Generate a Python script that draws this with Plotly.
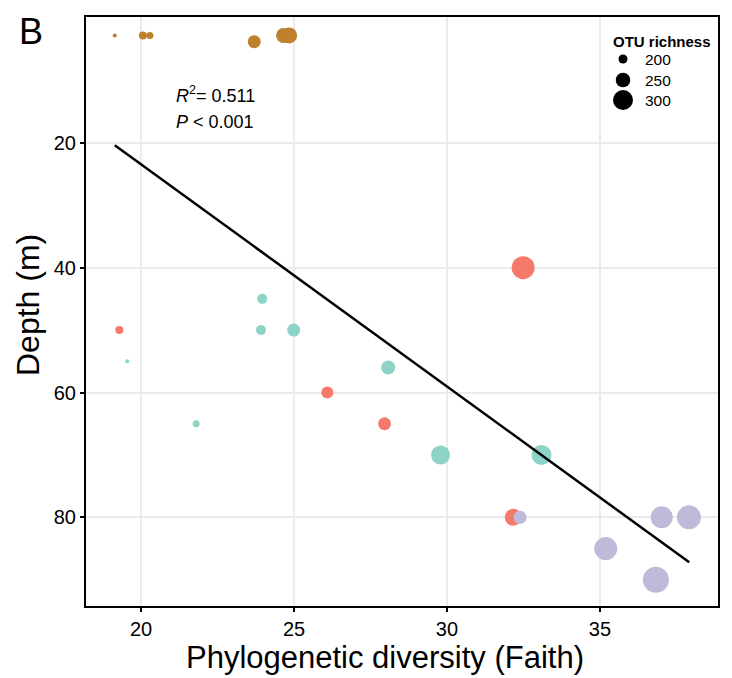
import plotly.graph_objects as go

# ---- data ----
brown_pd = [19.14, 20.06, 20.29, 23.70, 24.66, 24.84]
brown_depth = [2.8, 2.8, 2.8, 3.8, 2.8, 2.8]
brown_rich = [155, 191, 182, 236, 255, 264]

red_pd = [19.29, 32.49, 26.09, 27.96, 32.17]
red_depth = [50, 40, 60, 65, 80]
red_rich = [191, 327, 227, 236, 273]

teal_pd = [23.96, 23.92, 24.99, 19.55, 21.80, 28.08, 29.79, 33.09]
teal_depth = [45, 50, 50, 55, 65, 56, 70, 70]
teal_rich = [209, 209, 236, 155, 182, 245, 291, 300]

purple_pd = [32.39, 37.02, 37.91, 35.19, 36.83]
purple_depth = [80, 80, 80, 85, 90]
purple_rich = [236, 318, 336, 327, 355]

fit_pd = [19.14, 37.92]
fit_depth = [20.4, 87.2]

legend_rich = [200, 250, 300]
legend_labels = ["200", "250", "300"]


def size_of(r):
    return 9 + 0.11 * (r - 200)


FONT = "Liberation Sans, Arial, sans-serif"
W, H = 732, 678
L, R, T, B = 86, 14, 17, 72
PW, PH = W - L - R, H - T - B


def px_x(p):
    return (p - L) / PW


def px_y(p):
    return (H - B - p) / PH


fig = go.Figure()

groups = [
    (brown_pd, brown_depth, brown_rich, "#BF812D"),
    (red_pd, red_depth, red_rich, "#F57A6C"),
    (teal_pd, teal_depth, teal_rich, "#8DD3C7"),
    (purple_pd, purple_depth, purple_rich, "#BEBADA"),
]
for xs, ys, rs, col in groups:
    fig.add_trace(go.Scatter(
        x=xs, y=ys, mode="markers",
        marker=dict(size=[size_of(r) for r in rs], color=col, line=dict(width=0), opacity=1),
        showlegend=False, hoverinfo="skip", cliponaxis=False,
    ))

fig.add_trace(go.Scatter(
    x=fit_pd, y=fit_depth, mode="lines",
    line=dict(color="black", width=2.5), showlegend=False, hoverinfo="skip",
))

axis_common = dict(
    showline=True, linecolor="black", linewidth=2, mirror=True,
    ticks="outside", ticklen=4, tickwidth=1.5, tickcolor="black",
    showgrid=True, gridcolor="#EBEBEB", gridwidth=1.5,
    zeroline=False, tickfont=dict(family=FONT, size=20, color="black"),
)

fig.update_xaxes(range=[18.2, 38.86], tickvals=[20, 25, 30, 35], **axis_common)
fig.update_yaxes(range=[94.2, -0.15], tickvals=[20, 40, 60, 80], **axis_common)

annotations = [
    dict(text="Phylogenetic diversity (Faith)", x=px_x(385), y=px_y(657),
         font=dict(family=FONT, size=31, color="black")),
    dict(text="Depth (m)", x=px_x(28), y=px_y(305), textangle=-90,
         font=dict(family=FONT, size=32, color="black")),
    dict(text="B", x=px_x(31), y=px_y(31),
         font=dict(family=FONT, size=36, color="black")),
    dict(text="<i>R</i><sup>2</sup>= 0.511", x=px_x(174), y=px_y(94), xanchor="left",
         font=dict(family=FONT, size=18, color="black")),
    dict(text="<i>P</i> < 0.001", x=px_x(174), y=px_y(122), xanchor="left",
         font=dict(family=FONT, size=18, color="black")),
    dict(text="<b>OTU richness</b>", x=px_x(611), y=px_y(41), xanchor="left",
         font=dict(family=FONT, size=15, color="black")),
]
legend_y = [59, 80, 100]
shapes = []
for r, lab, yy in zip(legend_rich, legend_labels, legend_y):
    d = size_of(r)
    shapes.append(dict(type="circle", xref="paper", yref="paper",
                       xsizemode="pixel", ysizemode="pixel",
                       xanchor=px_x(623), yanchor=px_y(yy),
                       x0=-d / 2, x1=d / 2, y0=-d / 2, y1=d / 2,
                       fillcolor="black", line=dict(width=0)))
    annotations.append(dict(text=lab, x=px_x(643), y=px_y(yy), xanchor="left",
                            font=dict(family=FONT, size=15.5, color="black")))

for a in annotations:
    a.setdefault("xref", "paper")
    a.setdefault("yref", "paper")
    a.setdefault("xanchor", "center")
    a.setdefault("yanchor", "middle")
    a.setdefault("showarrow", False)

fig.update_layout(
    width=W, height=H,
    margin=dict(l=L, r=R, t=T, b=B),
    plot_bgcolor="white", paper_bgcolor="white",
    annotations=annotations, shapes=shapes,
    showlegend=False,
)

fig.write_html(
    "out.html",
    config={"displayModeBar": False},
    post_script="document.body.style.margin='0';document.body.style.padding='0';",
)
